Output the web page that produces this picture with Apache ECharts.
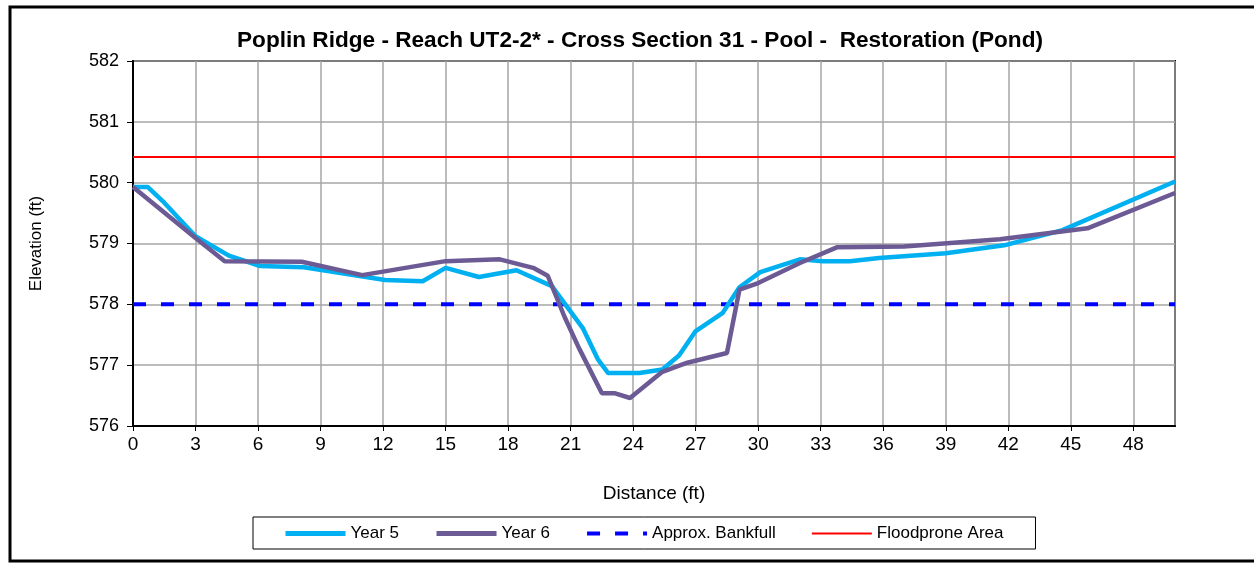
<!DOCTYPE html>
<html>
<head>
<meta charset="utf-8">
<script src="https://cdn.jsdelivr.net/npm/echarts@6/dist/echarts.min.js"></script>
<style>
  html, body { margin: 0; padding: 0; background: #fff; }
  #chart { width: 1254px; height: 563px; }
</style>
</head>
<body>
<div id="chart"></div>
<script>
// cross section survey, distance (ft) vs elevation (ft)
const year5Dist = [0, 0.7, 1.5, 3.0, 4.6, 6.1, 8.2, 12.1, 13.9, 15.0, 16.6, 18.4, 20.1, 21.6, 22.3, 22.8, 24.3, 25.4, 26.2, 27.0, 28.3, 29.1, 30.1, 32.0, 33.1, 34.4, 35.8, 39.0, 41.8, 44.6, 50];
const year5Elev = [579.93, 579.93, 579.67, 579.12, 578.8, 578.63, 578.61, 578.4, 578.38, 578.6, 578.45, 578.56, 578.3, 577.6, 577.1, 576.87, 576.87, 576.93, 577.16, 577.56, 577.86, 578.28, 578.53, 578.74, 578.71, 578.71, 578.76, 578.84, 578.97, 579.22, 580.02];

const year6Dist = [0, 3.0, 4.4, 8.1, 11.0, 15.0, 17.6, 19.2, 19.9, 20.7, 21.4, 22.5, 23.1, 23.85, 25.4, 26.6, 28.5, 29.1, 30.0, 32.0, 33.8, 37.0, 41.6, 45.8, 50];
const year6Elev = [579.93, 579.09, 578.71, 578.7, 578.48, 578.71, 578.74, 578.6, 578.47, 577.8, 577.28, 576.54, 576.54, 576.46, 576.89, 577.04, 577.2, 578.24, 578.35, 578.68, 578.94, 578.95, 579.07, 579.25, 579.83];

const bankfullElev = 578.0;
const floodproneElev = 580.42;
const xRange = [0, 50];
const yRange = [576, 582];

const toPairs = (xs, ys) => xs.map((x, i) => [x, ys[i]]);
const font = 'Liberation Sans, Arial, sans-serif';

const chart = echarts.init(document.getElementById('chart'));
chart.setOption({
  animation: false,
  textStyle: { fontFamily: font },
  graphic: [
    // outer frame: top, left and bottom edges only
    {
      type: 'polyline',
      shape: { points: [[1256, 7], [10, 7], [10, 561], [1256, 561]] },
      style: { fill: 'none', stroke: '#000', lineWidth: 3 },
      z: -1
    },
    {
      type: 'text',
      x: 640,
      y: 29,
      style: {
        text: 'Poplin Ridge - Reach UT2-2* - Cross Section 31 - Pool -  Restoration (Pond)',
        font: 'bold 22.6px ' + font,
        fill: '#000',
        align: 'center'
      }
    }
  ],
  grid: { left: 133, right: 79, top: 61, bottom: 137, show: true, borderColor: '#000', borderWidth: 2 },
  xAxis: {
    type: 'value',
    min: xRange[0],
    max: xRange[1],
    interval: 3,
    name: 'Distance (ft)',
    nameLocation: 'middle',
    nameGap: 58,
    nameTextStyle: { fontSize: 19, color: '#000', fontFamily: font },
    axisLine: { lineStyle: { color: '#000', width: 2 } },
    axisTick: { show: true, length: 5, lineStyle: { color: '#000' } },
    axisLabel: { fontSize: 19, color: '#000', margin: 9, showMaxLabel: false, fontFamily: font },
    splitLine: { show: true, lineStyle: { color: '#a6a6a6', width: 1.5 } }
  },
  yAxis: {
    type: 'value',
    min: yRange[0],
    max: yRange[1],
    interval: 1,
    name: 'Elevation (ft)',
    nameLocation: 'middle',
    nameGap: 88,
    nameRotate: 90,
    nameTextStyle: { fontSize: 17, color: '#000', fontFamily: font },
    axisLine: { show: true, lineStyle: { color: '#000', width: 2 } },
    axisTick: { show: true, length: 6, lineStyle: { color: '#000' } },
    axisLabel: { fontSize: 18, color: '#000', margin: 14, fontFamily: font },
    splitLine: { show: true, lineStyle: { color: '#a6a6a6', width: 1.5 } }
  },
  legend: {
    left: 253,
    top: 517,
    padding: [8, 32, 7, 30],
    itemWidth: 60,
    itemHeight: 14,
    itemGap: 35,
    borderColor: '#000',
    borderWidth: 1,
    itemStyle: { opacity: 0 },
    textStyle: { fontSize: 17, color: '#000', fontFamily: font },
    data: [
      { name: 'Year 5', lineStyle: { width: 5 } },
      { name: 'Year 6', lineStyle: { width: 5 } },
      { name: 'Approx. Bankfull', lineStyle: { width: 4 } },
      { name: 'Floodprone Area', lineStyle: { width: 2 } }
    ]
  },
  series: [
    {
      name: 'Floodprone Area',
      type: 'line',
      symbol: 'none',
      data: toPairs(xRange, [floodproneElev, floodproneElev]),
      lineStyle: { color: '#ff0000', width: 2 },
      itemStyle: { color: '#ff0000' }
    },
    {
      name: 'Approx. Bankfull',
      type: 'line',
      symbol: 'none',
      data: toPairs(xRange, [bankfullElev, bankfullElev]),
      lineStyle: { color: '#0000ff', width: 4, type: [13, 15] },
      itemStyle: { color: '#0000ff' }
    },
    {
      name: 'Year 5',
      type: 'line',
      symbol: 'none',
      data: toPairs(year5Dist, year5Elev),
      lineStyle: { color: '#00b0f0', width: 4.5 },
      itemStyle: { color: '#00b0f0' },
      z: 3
    },
    {
      name: 'Year 6',
      type: 'line',
      symbol: 'none',
      data: toPairs(year6Dist, year6Elev),
      lineStyle: { color: '#6c5a94', width: 4.5 },
      itemStyle: { color: '#6c5a94' },
      z: 4
    }
  ]
});
</script>
</body>
</html>
